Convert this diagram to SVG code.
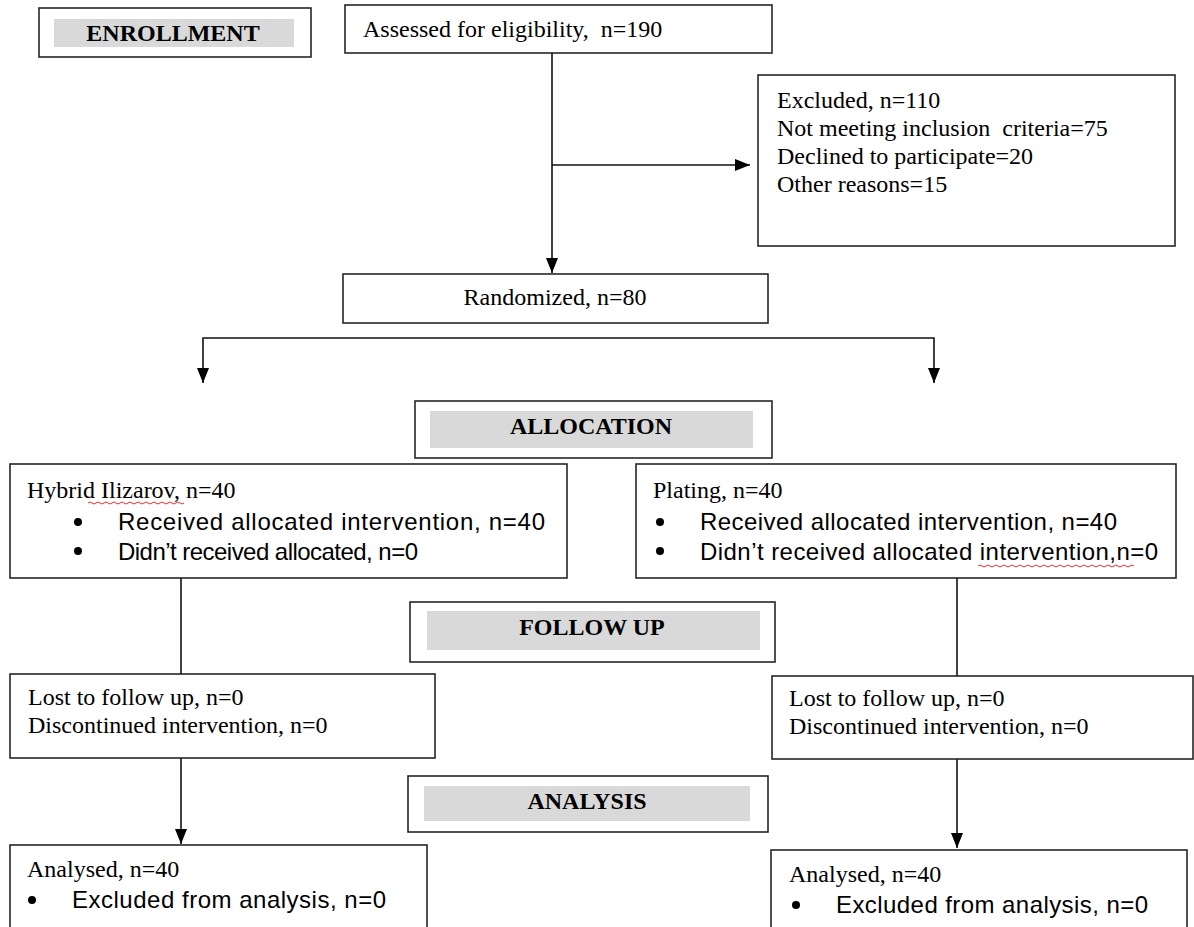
<svg xmlns="http://www.w3.org/2000/svg" width="1194" height="927" viewBox="0 0 1194 927">
<style>
.box{fill:#fff;stroke:#262626;stroke-width:1.6}
.band{fill:#d9d9d9}
.t{font-family:"Liberation Serif","Times New Roman",serif;font-size:24px;fill:#000}
.h{font-family:"Liberation Serif","Times New Roman",serif;font-size:24px;font-weight:bold;fill:#000}
.a{font-family:"Liberation Sans",Arial,sans-serif;font-size:24px;fill:#000}
.c{fill:none;stroke:#111;stroke-width:1.6}
.sp{fill:none;stroke:#e03030;stroke-width:1}
</style>
<defs>
<marker id="arr" viewBox="0 0 15 12" refX="15" refY="6" markerWidth="15" markerHeight="12" markerUnits="userSpaceOnUse" orient="auto">
<path d="M0,0 L15,6 L0,12 z" fill="#000"/>
</marker>
</defs>
<rect width="1194" height="927" fill="#fff"/>

<g id="connectors">
<path class="c" d="M552,53 V273" marker-end="url(#arr)"/>
<path class="c" d="M552,165 H750" marker-end="url(#arr)"/>
<path class="c" d="M553,338 H203 V383" marker-end="url(#arr)"/>
<path class="c" d="M553,338 H934 V383" marker-end="url(#arr)"/>
<path class="c" d="M181,578 V674"/>
<path class="c" d="M957,578 V676"/>
<path class="c" d="M181,758 V844" marker-end="url(#arr)"/>
<path class="c" d="M957,759 V848" marker-end="url(#arr)"/>
</g>

<g id="enrollment">
<rect class="box" x="39" y="8" width="272" height="49"/>
<rect class="band" x="54" y="19" width="240" height="28"/>
<text class="h" x="173" y="41" text-anchor="middle">ENROLLMENT</text>
</g>

<g id="assessed">
<rect class="box" x="345" y="5" width="427" height="48"/>
<text class="t" x="363" y="37" xml:space="preserve">Assessed for eligibility,  n=190</text>
</g>

<g id="excluded">
<rect class="box" x="758" y="75" width="417" height="171"/>
<text class="t" x="777" y="108">Excluded, n=110</text>
<text class="t" x="777" y="136" xml:space="preserve">Not meeting inclusion  criteria=75</text>
<text class="t" x="777" y="164">Declined to participate=20</text>
<text class="t" x="777" y="192">Other reasons=15</text>
</g>

<g id="randomized">
<rect class="box" x="343" y="274" width="425" height="49"/>
<text class="t" x="555" y="305" text-anchor="middle">Randomized, n=80</text>
</g>

<g id="allocation">
<rect class="box" x="415" y="401" width="357" height="57"/>
<rect class="band" x="430" y="411" width="323" height="37"/>
<text class="h" x="591" y="434" text-anchor="middle">ALLOCATION</text>
</g>

<g id="hybrid">
<rect class="box" x="10" y="464" width="557" height="114"/>
<text class="t" x="27" y="498">Hybrid Ilizarov, n=40</text>
<path class="sp" d="M88,503 q2,-2 4,0 t4,0 t4,0 t4,0 t4,0 t4,0 t4,0 t4,0 t4,0 t4,0 t4,0 t4,0 t4,0 t4,0 t4,0 t4,0 t4,0 t4,0 t4,0 t4,0 t4,0 t4,0 t4,0 t4,0"/>
<circle cx="78" cy="522" r="4"/>
<text class="a" x="118" y="530" textLength="427" lengthAdjust="spacing">Received allocated intervention, n=40</text>
<circle cx="78" cy="551" r="4"/>
<text class="a" x="118" y="560" textLength="300" lengthAdjust="spacing">Didn’t received allocated, n=0</text>
</g>

<g id="plating">
<rect class="box" x="636" y="464" width="540" height="114"/>
<text class="t" x="653" y="498">Plating, n=40</text>
<circle cx="660" cy="522" r="4"/>
<text class="a" x="700" y="530" textLength="417" lengthAdjust="spacing">Received allocated intervention, n=40</text>
<circle cx="660" cy="551" r="4"/>
<text class="a" x="700" y="560" textLength="458" lengthAdjust="spacing">Didn’t received allocated intervention,n=0</text>
<path class="sp" d="M978,566 q2,-2 4,0 t4,0 t4,0 t4,0 t4,0 t4,0 t4,0 t4,0 t4,0 t4,0 t4,0 t4,0 t4,0 t4,0 t4,0 t4,0 t4,0 t4,0 t4,0 t4,0 t4,0 t4,0 t4,0 t4,0 t4,0 t4,0 t4,0 t4,0 t4,0 t4,0 t4,0 t4,0 t4,0 t4,0 t4,0 t4,0 t4,0 t4,0 t4,0"/>
</g>

<g id="followup">
<rect class="box" x="410" y="602" width="365" height="60"/>
<rect class="band" x="427" y="611" width="333" height="39"/>
<text class="h" x="592" y="635" text-anchor="middle">FOLLOW UP</text>
</g>

<g id="lost-left">
<rect class="box" x="10" y="674" width="425" height="84"/>
<text class="t" x="28" y="705">Lost to follow up, n=0</text>
<text class="t" x="28" y="733">Discontinued intervention, n=0</text>
</g>

<g id="lost-right">
<rect class="box" x="772" y="676" width="421" height="83"/>
<text class="t" x="789" y="706">Lost to follow up, n=0</text>
<text class="t" x="789" y="734">Discontinued intervention, n=0</text>
</g>

<g id="analysis">
<rect class="box" x="408" y="776" width="360" height="56"/>
<rect class="band" x="424" y="786" width="326" height="35"/>
<text class="h" x="587" y="809" text-anchor="middle">ANALYSIS</text>
</g>

<g id="analysed-left">
<rect class="box" x="10" y="845" width="417" height="100"/>
<text class="t" x="27" y="877">Analysed, n=40</text>
<circle cx="32" cy="900" r="4"/>
<text class="a" x="72" y="908" textLength="314" lengthAdjust="spacing">Excluded from analysis, n=0</text>
</g>

<g id="analysed-right">
<rect class="box" x="771" y="850" width="416" height="100"/>
<text class="t" x="789" y="882">Analysed, n=40</text>
<circle cx="796" cy="905" r="4"/>
<text class="a" x="836" y="913" textLength="312" lengthAdjust="spacing">Excluded from analysis, n=0</text>
</g>
</svg>
